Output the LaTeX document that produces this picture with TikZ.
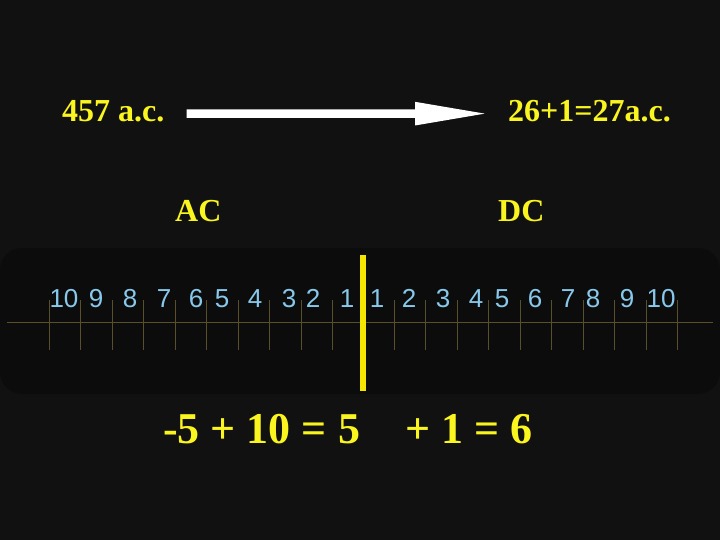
\documentclass[tikz,border=0pt]{standalone}
\usepackage{fontspec}
\setmainfont{Liberation Serif}
\setsansfont{Liberation Sans}
\usetikzlibrary{arrows.meta}
\definecolor{bgdark}{RGB}{17,17,17}
\definecolor{panel}{RGB}{12,12,12}
\definecolor{yeltext}{RGB}{250,245,30}
\definecolor{baryel}{RGB}{245,230,0}
\definecolor{numblue}{RGB}{135,200,235}
\definecolor{tickol}{RGB}{90,80,40}
\tikzset{every node/.style={inner sep=0pt},
  datetext/.style={text=yeltext, anchor=base west, font=\fontsize{32}{36}\selectfont\bfseries},
  sumtext/.style={text=yeltext, anchor=base west, font=\fontsize{44}{50}\selectfont\bfseries},
  numtext/.style={text=numblue, anchor=base, font=\sffamily\fontsize{26}{29}\selectfont},
  ruletick/.style={tickol, line width=0.8pt}}

\begin{document}
\begin{tikzpicture}[x=1pt,y=-1pt]
       \fill[bgdark] (0,0) rectangle (720,540);
       \useasboundingbox (0,0) rectangle (720,540);
       \fill[panel, rounded corners=22pt] (0,248) rectangle (720,394);
       % dates and arrow
       \node[datetext] (start) at (62,122) {457 a.c.};
       \node[datetext] (end) at (508,122) {26+1=27a.c.};
       \draw[white, line width=8.5pt, -{Triangle[length=75pt,width=21pt]}, shorten <=22pt, shorten >=18pt]
            ([yshift=-2pt]start.east) -- ([yshift=-2pt]end.west);
       \node[datetext] (ac) at (175,222) {AC};
       \node[datetext] (dc) at (498,222) {DC};
       % ruler
       \coordinate (rulel) at (7,322);
       \coordinate (ruler) at (713,322);
       \draw[ruletick] (rulel) -- (ruler);
       \foreach \k in {0,...,9} {
        \draw[ruletick] (49+31.5*\k,300) -- ++(0,50);
        \draw[ruletick] (394+31.5*\k,300) -- ++(0,50);
       }
       \foreach \n/\x in {10/64,9/96,8/130,7/164,6/196,5/222,4/255,3/289,2/313,1/347}
        \node[numtext] (l\n) at (\x,307) {\n};
       \foreach \n/\x in {1/377,2/409,3/443,4/476,5/502,6/535,7/568,8/593,9/627,10/661}
        \node[numtext] (r\n) at (\x,307) {\n};
       \coordinate (bartop) at (363,255);
       \coordinate (barbot) at (363,391);
       \draw[baryel, line width=6pt] (bartop) -- (barbot);
       % sums
       \node[sumtext] (lhs) at (163,443) {-5 + 10 = 5};
       \node[sumtext] (rhs) at (405,443) {+ 1 = 6};
\end{tikzpicture}
\end{document}
